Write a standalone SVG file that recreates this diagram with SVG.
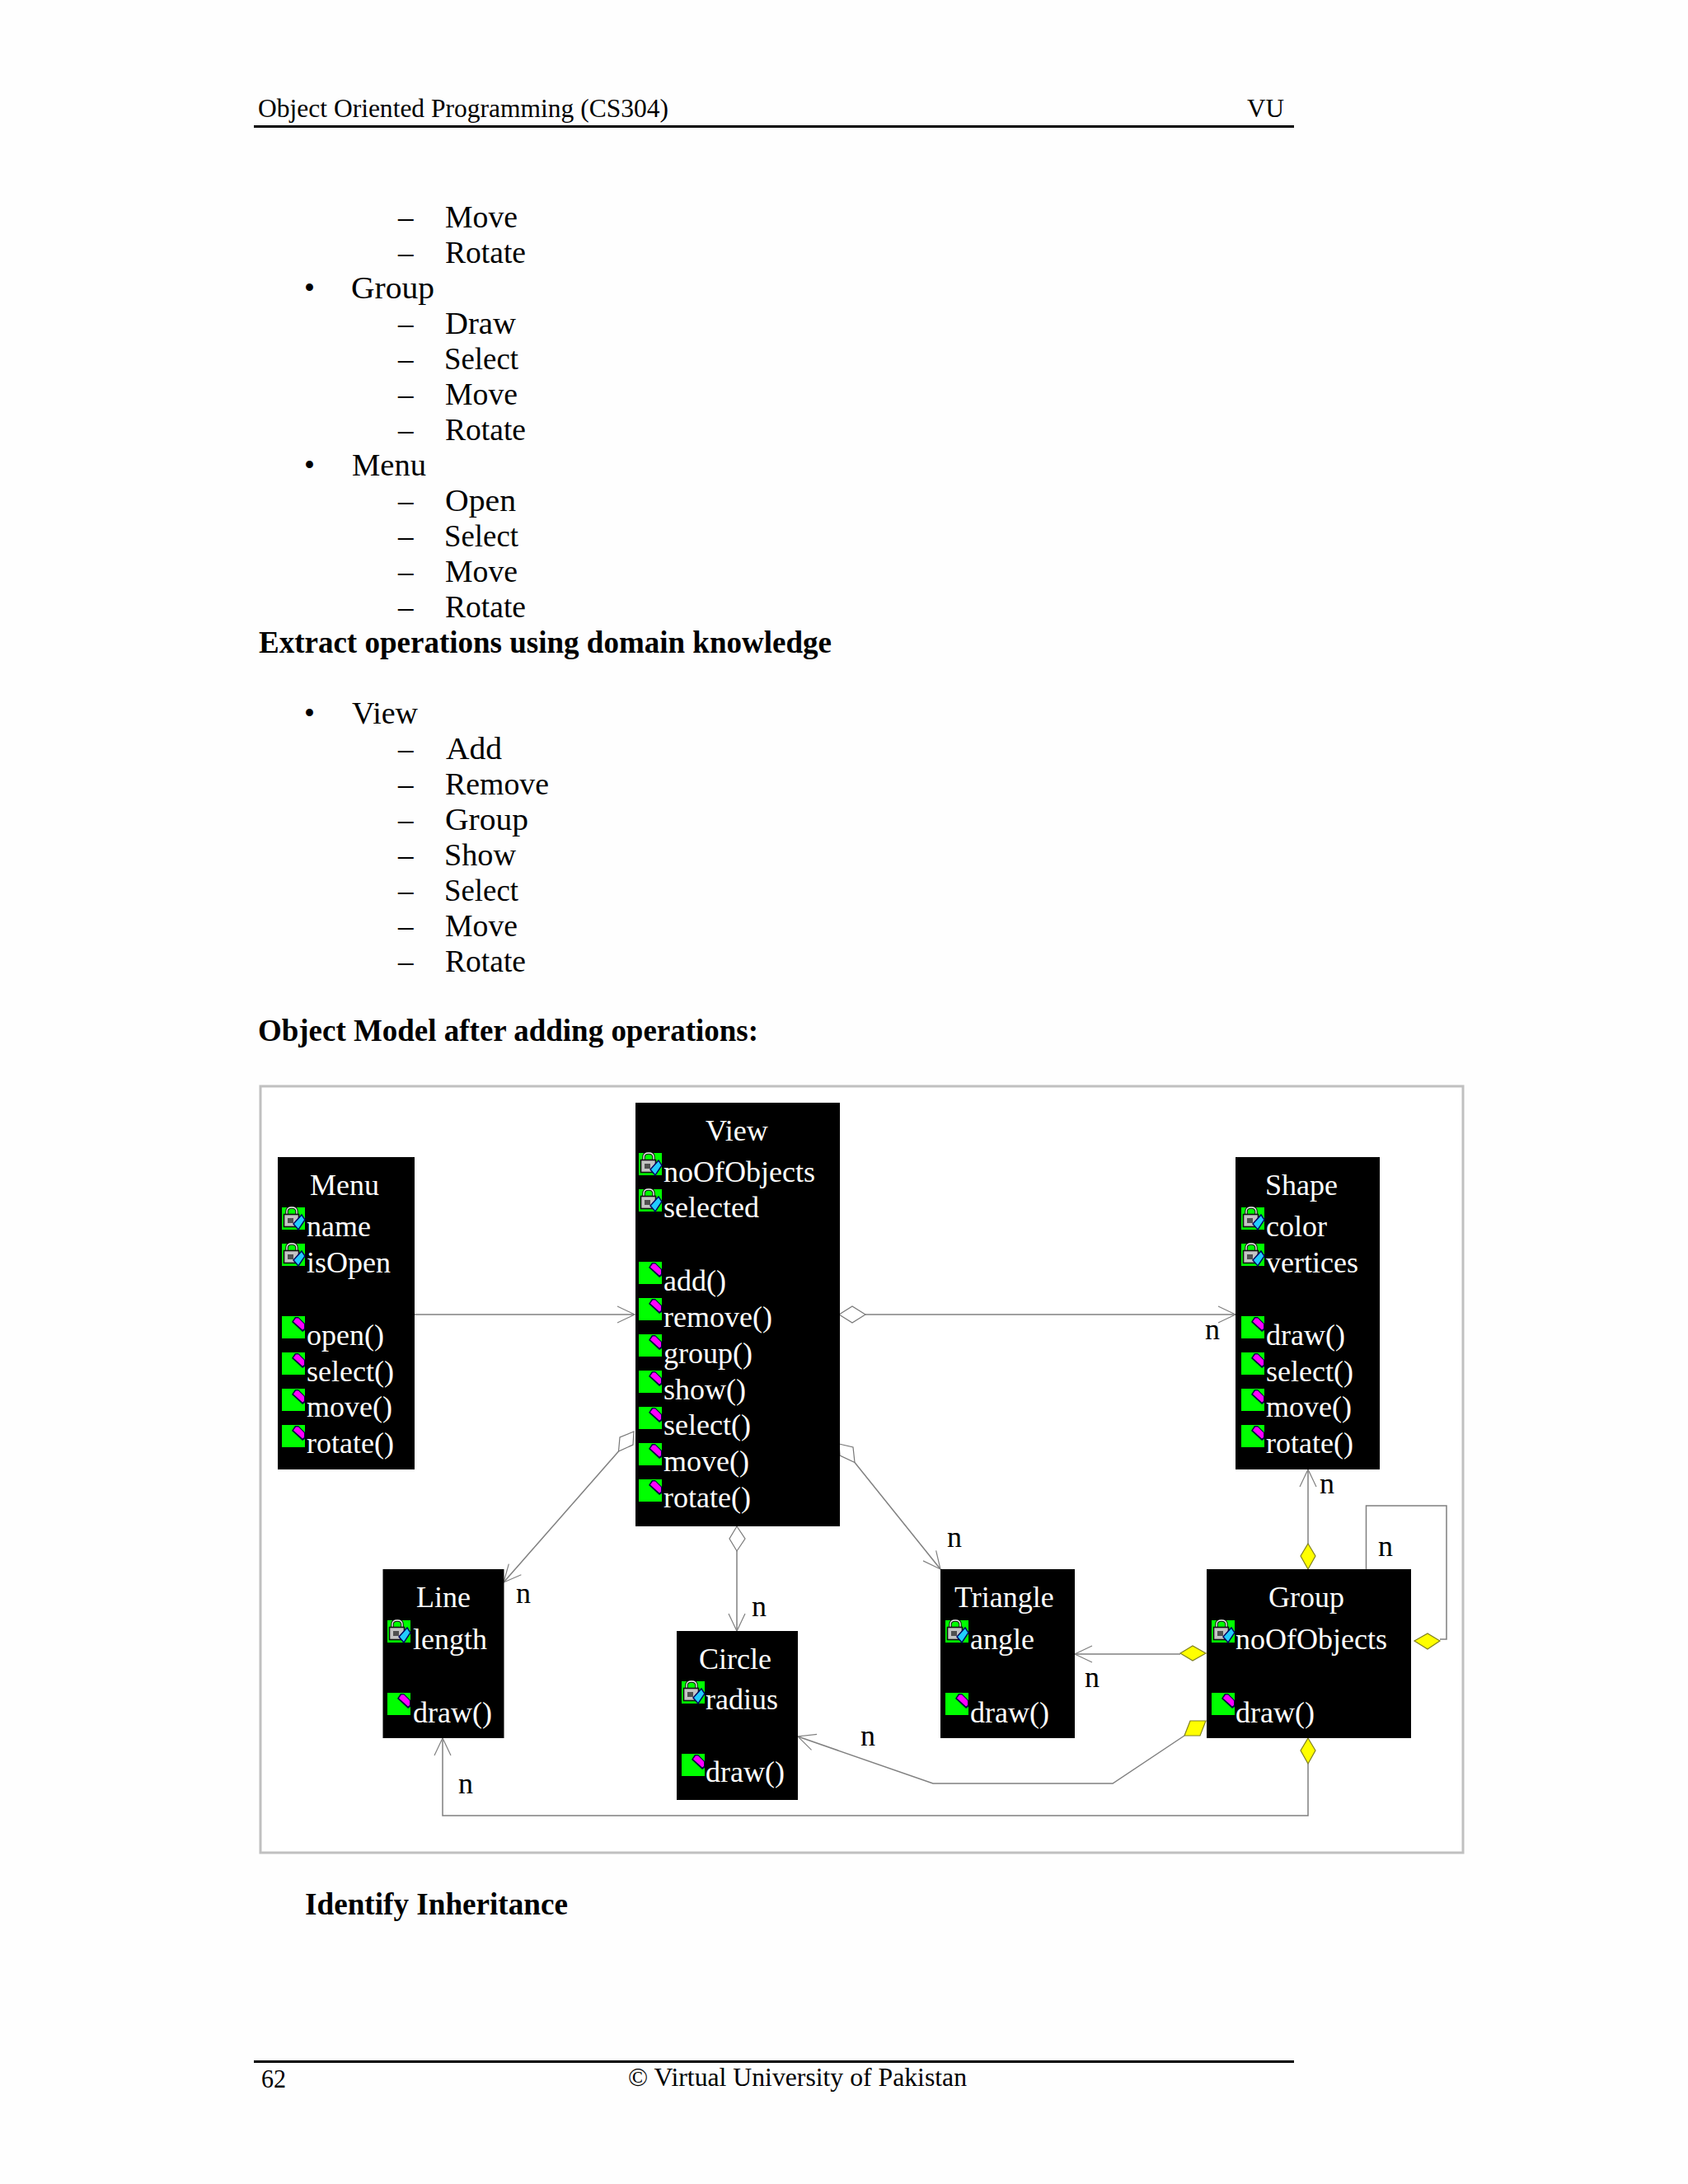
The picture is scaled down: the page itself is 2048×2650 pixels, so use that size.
<svg xmlns="http://www.w3.org/2000/svg" xmlns:xlink="http://www.w3.org/1999/xlink" width="2048" height="2650" viewBox="0 0 2048 2650">
<style>
text{font-family:"Liberation Serif","Times New Roman",serif;font-size:36px;fill:#000}
.b{font-size:37px}
.h{font-weight:bold;font-size:37px}
.s{font-size:32px}
.w{fill:#fff}
.c{fill:none;stroke:#808080;stroke-width:1.5}
.open{fill:#fff;stroke:#777;stroke-width:1.2}
.solid{fill:#ffff00;stroke:#808020;stroke-width:1.2}
.box{fill:#000}
</style>
<defs>
<marker id="arrow" markerUnits="userSpaceOnUse" markerWidth="24" markerHeight="24" refX="22" refY="12" orient="auto" viewBox="0 0 24 24">
<path d="M1,2 L22,12 L1,22" fill="none" stroke="#808080" stroke-width="1.2"/>
</marker>
<g id="ia">
<rect width="28" height="27" fill="#00ff00"/>
<path d="M6,10 V5 Q6,0 12,0 Q18,0 18,5 V10" fill="none" stroke="#101010" stroke-width="3.5"/>
<path d="M6,10 V5 Q6,0 12,0 Q18,0 18,5 V10" fill="none" stroke="#f0f0f0" stroke-width="1.4"/>
<rect x="2.500" y="8.500" width="18" height="15" fill="#c4c4c4" stroke="#111" stroke-width="1.6"/>
<rect x="7" y="13" width="7" height="6" fill="#505050"/>
<polygon points="24,9 28,15 20,27 14,20" fill="#22ccff" stroke="#000060" stroke-width="1.4"/>
</g>
<g id="im">
<rect width="28" height="27" fill="#00ff00"/>
<polygon points="16,1 20,1 28,9 28,17 25,19 12,7" fill="#000040"/>
<polygon points="17,2.500 20,2.500 27,9.500 27,15 25,16.500 14,6.500" fill="#ff00ff"/>
</g>
</defs>
<rect width="2048" height="2650" fill="#fefefe"/>

<g id="page-header">
<text class="s" x="313" y="142" textLength="498" lengthAdjust="spacingAndGlyphs">Object Oriented Programming (CS304)</text>
<text class="s" x="1513" y="142" textLength="45" lengthAdjust="spacingAndGlyphs">VU</text>
<rect x="308" y="152" width="1262" height="3" fill="#000"/>
</g>

<g id="body-text">
<text class="b" x="483" y="276">–</text><text class="b" x="540" y="276" textLength="88" lengthAdjust="spacingAndGlyphs">Move</text>
<text class="b" x="483" y="319">–</text><text class="b" x="540" y="319" textLength="98" lengthAdjust="spacingAndGlyphs">Rotate</text>
<text class="b" x="369" y="362">•</text><text class="b" x="426" y="362" textLength="101" lengthAdjust="spacingAndGlyphs">Group</text>
<text class="b" x="483" y="405">–</text><text class="b" x="540" y="405" textLength="86" lengthAdjust="spacingAndGlyphs">Draw</text>
<text class="b" x="483" y="448">–</text><text class="b" x="539" y="448" textLength="90" lengthAdjust="spacingAndGlyphs">Select</text>
<text class="b" x="483" y="491">–</text><text class="b" x="540" y="491" textLength="88" lengthAdjust="spacingAndGlyphs">Move</text>
<text class="b" x="483" y="534">–</text><text class="b" x="540" y="534" textLength="98" lengthAdjust="spacingAndGlyphs">Rotate</text>
<text class="b" x="369" y="577">•</text><text class="b" x="427" y="577" textLength="90" lengthAdjust="spacingAndGlyphs">Menu</text>
<text class="b" x="483" y="620">–</text><text class="b" x="540" y="620" textLength="86" lengthAdjust="spacingAndGlyphs">Open</text>
<text class="b" x="483" y="663">–</text><text class="b" x="539" y="663" textLength="90" lengthAdjust="spacingAndGlyphs">Select</text>
<text class="b" x="483" y="706">–</text><text class="b" x="540" y="706" textLength="88" lengthAdjust="spacingAndGlyphs">Move</text>
<text class="b" x="483" y="749">–</text><text class="b" x="540" y="749" textLength="98" lengthAdjust="spacingAndGlyphs">Rotate</text>
<text class="h" x="314" y="792" textLength="695" lengthAdjust="spacingAndGlyphs">Extract operations using domain knowledge</text>
<text class="b" x="369" y="878">•</text><text class="b" x="427" y="878" textLength="80" lengthAdjust="spacingAndGlyphs">View</text>
<text class="b" x="483" y="921">–</text><text class="b" x="541" y="921" textLength="68" lengthAdjust="spacingAndGlyphs">Add</text>
<text class="b" x="483" y="964">–</text><text class="b" x="540" y="964" textLength="126" lengthAdjust="spacingAndGlyphs">Remove</text>
<text class="b" x="483" y="1007">–</text><text class="b" x="540" y="1007" textLength="101" lengthAdjust="spacingAndGlyphs">Group</text>
<text class="b" x="483" y="1050">–</text><text class="b" x="539" y="1050" textLength="87" lengthAdjust="spacingAndGlyphs">Show</text>
<text class="b" x="483" y="1093">–</text><text class="b" x="539" y="1093" textLength="90" lengthAdjust="spacingAndGlyphs">Select</text>
<text class="b" x="483" y="1136">–</text><text class="b" x="540" y="1136" textLength="88" lengthAdjust="spacingAndGlyphs">Move</text>
<text class="b" x="483" y="1179">–</text><text class="b" x="540" y="1179" textLength="98" lengthAdjust="spacingAndGlyphs">Rotate</text>
<text class="h" x="313" y="1263" textLength="607" lengthAdjust="spacingAndGlyphs">Object Model after adding operations:</text>
<text class="h" x="370" y="2323" textLength="319" lengthAdjust="spacingAndGlyphs">Identify Inheritance</text>
</g>

<rect id="frame" x="316" y="1318" width="1459" height="930" fill="#fff" stroke="#c0c0c0" stroke-width="3"/>

<g id="connectors">
<line class="c" x1="503" y1="1595" x2="770" y2="1595" marker-end="url(#arrow)"/>
<polygon class="open" points="1018,1595 1034,1585 1050,1595 1034,1605"/>
<line class="c" x1="1050" y1="1595" x2="1499" y2="1595" marker-end="url(#arrow)"/>
<polygon class="open" points="769,1737 752,1744 750.5,1761 768,1753"/>
<line class="c" x1="750.5" y1="1761" x2="611" y2="1920" marker-end="url(#arrow)"/>
<polygon class="open" points="1018,1752 1035,1756 1037,1774.5 1019,1766"/>
<line class="c" x1="1037" y1="1774.5" x2="1141" y2="1904" marker-end="url(#arrow)"/>
<polygon class="open" points="894,1852 904,1867 894,1882 885,1867"/>
<line class="c" x1="894" y1="1882" x2="894" y2="1979" marker-end="url(#arrow)"/>
<polygon class="solid" points="1587,1873 1596,1888 1587,1904 1578,1888"/>
<line class="c" x1="1587" y1="1873" x2="1587" y2="1783" marker-end="url(#arrow)"/>
<polyline class="c" points="1657.500,1904 1657.500,1827 1755,1827 1755,1989 1747,1989"/>
<polygon class="solid" points="1716,1991 1732,1982 1747,1991 1732,2001"/>
<polygon class="solid" points="1432,2006 1447,1997 1463,2006 1447,2015"/>
<line class="c" x1="1432" y1="2007" x2="1304" y2="2007" marker-end="url(#arrow)"/>
<polygon class="solid" points="1444,2088 1463,2088 1456,2106 1437,2106"/>
<polyline class="c" points="1437,2106 1350,2164 1132,2164 968,2107" marker-end="url(#arrow)"/>
<polygon class="solid" points="1587,2109 1596,2124 1587,2140 1578,2124"/>
<polyline class="c" points="1587,2140 1587,2203 537,2203 537,2109" marker-end="url(#arrow)"/>
<text x="1462" y="1625">n</text>
<text x="626" y="1945">n</text>
<text x="1149" y="1877">n</text>
<text x="912" y="1961">n</text>
<text x="1601" y="1812">n</text>
<text x="1672" y="1888">n</text>
<text x="1316" y="2047">n</text>
<text x="1044" y="2118">n</text>
<text x="556" y="2176">n</text>
</g>

<g id="menu">
<rect class="box" x="337" y="1404" width="166" height="379"/>
<text class="w" x="376" y="1450">Menu</text>
<use xlink:href="#ia" href="#ia" x="342" y="1465"/><text class="w" x="372" y="1500">name</text>
<use xlink:href="#ia" href="#ia" x="342" y="1509"/><text class="w" x="372" y="1544">isOpen</text>
<use xlink:href="#im" href="#im" x="342" y="1597"/><text class="w" x="372" y="1632">open()</text>
<use xlink:href="#im" href="#im" x="342" y="1641"/><text class="w" x="372" y="1676">select()</text>
<use xlink:href="#im" href="#im" x="342" y="1685"/><text class="w" x="372" y="1719">move()</text>
<use xlink:href="#im" href="#im" x="342" y="1729"/><text class="w" x="372" y="1763">rotate()</text>
</g>

<g id="view">
<rect class="box" x="771" y="1338" width="248" height="514"/>
<text class="w" x="856" y="1384">View</text>
<use xlink:href="#ia" href="#ia" x="775" y="1399"/><text class="w" x="805" y="1434">noOfObjects</text>
<use xlink:href="#ia" href="#ia" x="775" y="1443"/><text class="w" x="805" y="1477">selected</text>
<use xlink:href="#im" href="#im" x="775" y="1531"/><text class="w" x="805" y="1566">add()</text>
<use xlink:href="#im" href="#im" x="775" y="1575"/><text class="w" x="805" y="1610">remove()</text>
<use xlink:href="#im" href="#im" x="775" y="1619"/><text class="w" x="805" y="1654">group()</text>
<use xlink:href="#im" href="#im" x="775" y="1663"/><text class="w" x="805" y="1698">show()</text>
<use xlink:href="#im" href="#im" x="775" y="1707"/><text class="w" x="805" y="1741">select()</text>
<use xlink:href="#im" href="#im" x="775" y="1751"/><text class="w" x="805" y="1785">move()</text>
<use xlink:href="#im" href="#im" x="775" y="1795"/><text class="w" x="805" y="1829">rotate()</text>
</g>

<g id="shape">
<rect class="box" x="1499" y="1404" width="175" height="379"/>
<text class="w" x="1535" y="1450">Shape</text>
<use xlink:href="#ia" href="#ia" x="1506" y="1465"/><text class="w" x="1536" y="1500">color</text>
<use xlink:href="#ia" href="#ia" x="1506" y="1509"/><text class="w" x="1536" y="1544">vertices</text>
<use xlink:href="#im" href="#im" x="1506" y="1597"/><text class="w" x="1536" y="1632">draw()</text>
<use xlink:href="#im" href="#im" x="1506" y="1641"/><text class="w" x="1536" y="1676">select()</text>
<use xlink:href="#im" href="#im" x="1506" y="1685"/><text class="w" x="1536" y="1719">move()</text>
<use xlink:href="#im" href="#im" x="1506" y="1729"/><text class="w" x="1536" y="1763">rotate()</text>
</g>

<g id="line">
<rect class="box" x="464.500" y="1904" width="147" height="205"/>
<text class="w" x="505" y="1950">Line</text>
<use xlink:href="#ia" href="#ia" x="470" y="1966"/><text class="w" x="501" y="2001">length</text>
<use xlink:href="#im" href="#im" x="470" y="2054"/><text class="w" x="501" y="2090">draw()</text>
</g>

<g id="circle">
<rect class="box" x="821" y="1979" width="147" height="205"/>
<text class="w" x="848" y="2025">Circle</text>
<use xlink:href="#ia" href="#ia" x="827" y="2040"/><text class="w" x="856" y="2074">radius</text>
<use xlink:href="#im" href="#im" x="827" y="2128"/><text class="w" x="856" y="2162">draw()</text>
</g>

<g id="triangle">
<rect class="box" x="1141" y="1904" width="163" height="205"/>
<text class="w" x="1158" y="1950">Triangle</text>
<use xlink:href="#ia" href="#ia" x="1147" y="1966"/><text class="w" x="1177" y="2001">angle</text>
<use xlink:href="#im" href="#im" x="1147" y="2054"/><text class="w" x="1177" y="2090">draw()</text>
</g>

<g id="group">
<rect class="box" x="1464" y="1904" width="248" height="205"/>
<text class="w" x="1539" y="1950">Group</text>
<use xlink:href="#ia" href="#ia" x="1470" y="1966"/><text class="w" x="1499" y="2001">noOfObjects</text>
<use xlink:href="#im" href="#im" x="1470" y="2054"/><text class="w" x="1499" y="2090">draw()</text>
</g>

<g id="page-footer">
<rect x="308" y="2500" width="1262" height="3" fill="#000"/>
<text class="s" x="317" y="2533" textLength="30" lengthAdjust="spacingAndGlyphs">62</text>
<text class="s" x="762" y="2531" textLength="411" lengthAdjust="spacingAndGlyphs">© Virtual University of Pakistan</text>
</g>
</svg>
